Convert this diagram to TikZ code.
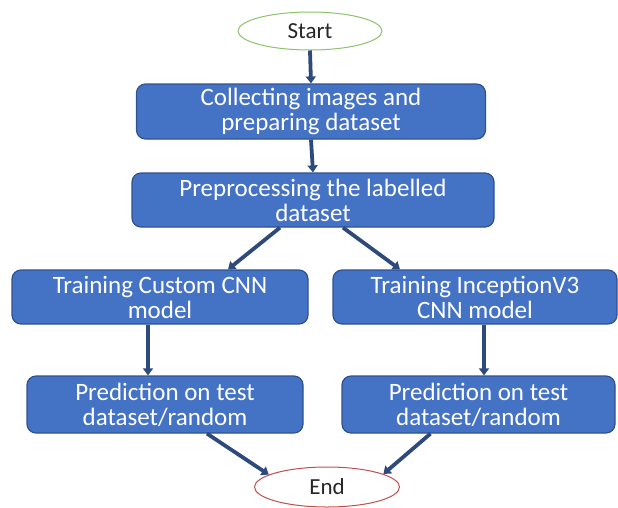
\documentclass[tikz,border=0pt]{standalone}
\usepackage{fontspec}
\setmainfont{Carlito}
\usepackage{tikz}
\usetikzlibrary{shapes.geometric,arrows.meta}
\definecolor{boxblue}{HTML}{4472C4}
\definecolor{boxedge}{HTML}{2F528F}
\definecolor{arrowblue}{HTML}{2E4A7D}
\definecolor{startgreen}{HTML}{8CC26A}
\definecolor{endred}{HTML}{C0504D}
\tikzset{
  stepbox/.style={draw=boxedge,fill=boxblue,rectangle,rounded corners=9pt,line width=1.2pt,
    text=white,align=center,font=\fontsize{25}{25}\selectfont,inner sep=0pt},
  term/.style={ellipse,fill=white,line width=1pt,text=black!85,font=\fontsize{23}{23}\selectfont,inner sep=0pt},
  flow/.style={draw=arrowblue,line width=3.8pt,-{Triangle[length=7pt,width=10pt]}}
}
\begin{document}
\begin{tikzpicture}[x=1pt,y=-1pt]
\useasboundingbox (0,0) rectangle (618,507);
\node[term,draw=startgreen,minimum width=144pt,minimum height=38pt] (start) at (310,31) {Start};
\node[stepbox,minimum width=349pt,minimum height=55pt] (collect) at (311,111.5) {Collecting images and\\preparing dataset};
\node[stepbox,minimum width=362pt,minimum height=54pt] (prep) at (313,200) {Preprocessing the labelled\\dataset};
\node[stepbox,minimum width=296pt,minimum height=54pt] (trainA) at (160,297) {Training Custom CNN\\model};
\node[stepbox,minimum width=284pt,minimum height=54pt] (trainB) at (475,297) {Training InceptionV3\\CNN model};
\node[stepbox,minimum width=276pt,minimum height=57pt] (predA) at (165,404.5) {Prediction on test\\dataset/random};
\node[stepbox,minimum width=273pt,minimum height=57pt] (predB) at (478.5,404.5) {Prediction on test\\dataset/random};
\node[term,draw=endred,minimum width=145pt,minimum height=40pt] (end) at (327,487) {End};
\draw[flow] (start.south) -- (collect.north);
\draw[flow] (collect.south) -- (prep.north);
\draw[flow] ([xshift=-33pt]prep.south) -- ([xshift=68pt]trainA.north);
\draw[flow] ([xshift=30pt]prep.south) -- ([xshift=-75pt]trainB.north);
\draw[flow] ([xshift=-12pt]trainA.south) -- ([xshift=-17pt]predA.north);
\draw[flow] ([xshift=9pt]trainB.south) -- ([xshift=5.5pt]predB.north);
\draw[flow] ([xshift=42pt]predA.south) -- (end.168);
\draw[flow] ([xshift=-48pt]predB.south) -- (end.13);
\end{tikzpicture}
\end{document}
